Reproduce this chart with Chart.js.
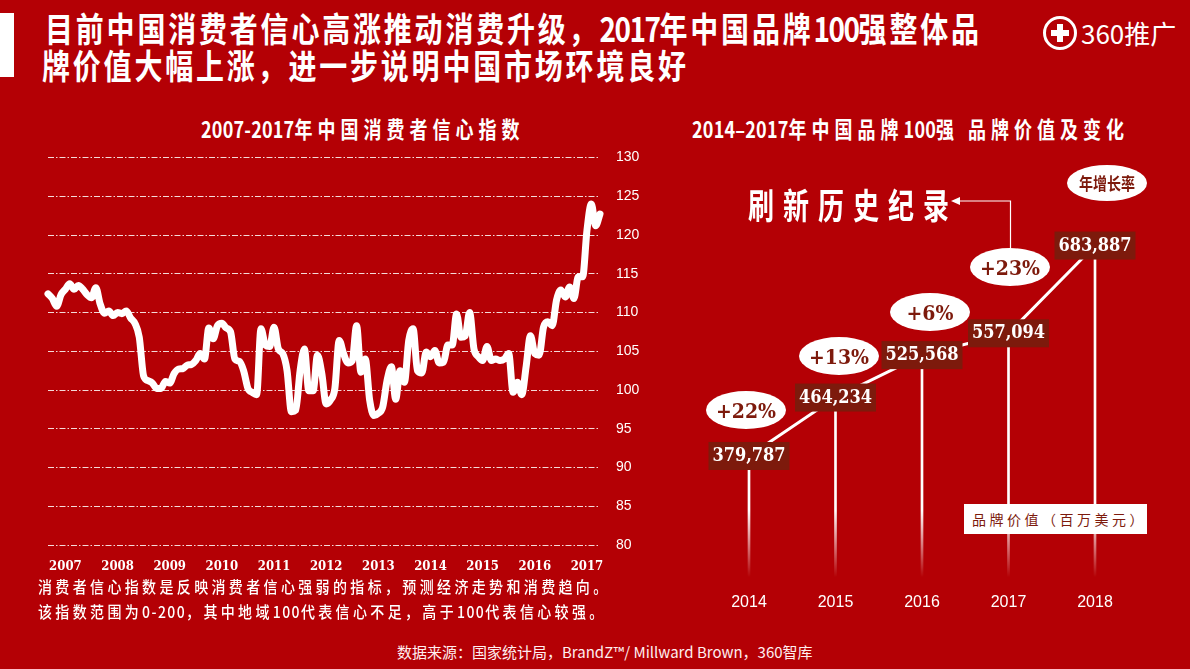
<!DOCTYPE html>
<html lang="zh"><head><meta charset="utf-8">
<script src="https://cdn.jsdelivr.net/npm/chart.js@4"></script>
<style>
html,body{margin:0;padding:0;background:#b40005;}
#page{position:relative;width:1190px;height:669px;overflow:hidden;background:#b40005;color:#fff;font-family:"Noto Sans CJK SC",sans-serif;}
canvas{position:absolute;top:0;}
.t{position:absolute;white-space:nowrap;transform-origin:0 0;line-height:1;}
.h{font-size:28px;font-weight:700;letter-spacing:2.8px;transform:scaleY(1.22);}
.h span{letter-spacing:-1.5px;}
.s{font-size:18px;font-weight:700;letter-spacing:5px;transform:scaleY(1.25);}
.s span{letter-spacing:.2px;}
.n{font-size:14px;font-weight:500;letter-spacing:3.35px;transform:scaleY(1.15);}
.n span{letter-spacing:1.4px;}
.e{position:absolute;background:#fff;border-radius:50%;color:#7d1a0c;display:flex;align-items:center;justify-content:center;font:bold 21px "DejaVu Serif Condensed","DejaVu Serif",serif;width:80px;height:38px;}
</style></head><body><div id="page">
<div style="position:absolute;left:0;top:13px;width:14px;height:64px;background:#fff"></div>
<div class="t h" style="left:45px;top:10px">目前中国消费者信心高涨推动消费升级，<span>2017</span>年中国品牌<span>100</span>强整体品</div>
<div class="t h" style="left:42px;top:47px">牌价值大幅上涨，进一步说明中国市场环境良好</div>
<div style="position:absolute;left:1043px;top:16px;width:28px;height:28px;border:3px solid #fff;border-radius:50%"></div>
<div style="position:absolute;left:1051px;top:30px;width:18px;height:6px;background:#fff"></div>
<div style="position:absolute;left:1057px;top:24px;width:6px;height:18px;background:#fff"></div>
<div class="t" style="left:1081px;top:20px;font-size:26px;font-weight:400">360推广</div>
<div class="t s" style="left:201px;top:117px"><span>2007-2017</span>年中国消费者信心指数</div>
<div class="t s" style="left:692px;top:117px"><span>2014–2017</span>年中国品牌<span>100</span>强 品牌价值及变化</div>
<canvas id="left"></canvas><canvas id="right" style="left:660px"></canvas>
<div class="t n" style="left:38px;top:578px">消费者信心指数是反映消费者信心强弱的指标，预测经济走势和消费趋向。</div>
<div class="t n" style="left:38px;top:603px">该指数范围为<span>0-200</span>，其中地域<span>100</span>代表信心不足，高于<span>100</span>代表信心较强。</div>
<div class="t" style="left:397px;top:644px;font-size:15px;color:#ffeef0">数据来源：国家统计局，BrandZ™/ Millward Brown，360智库</div>
<div class="t" style="left:748px;top:187px;font-size:26px;font-weight:700;letter-spacing:9px;transform:scaleY(1.35)">刷新历史纪录</div>
<svg style="position:absolute;left:0;top:0" width="1190" height="669"><path d="M1010.5 248V201H958" fill="none" stroke="#fff" stroke-width="1.2"/><path d="M951 201l9-4v8z" fill="#fff"/></svg>
<div class="e" style="left:706px;top:391px" data-g="0"></div>
<div class="e" style="left:799px;top:337px" data-g="1"></div>
<div class="e" style="left:890px;top:293px" data-g="2"></div>
<div class="e" style="left:970px;top:248px" data-g="3"></div>
<div class="e" style="left:1067px;top:165px;height:36px;font:bold 14px 'Noto Sans CJK SC',sans-serif"><span style="display:inline-block;transform:scaleY(1.2)">年增长率</span></div>
<div class="t" style="left:964px;top:504px;width:175px;padding-left:8px;height:30px;background:#fff;color:#7d1a0c;font-size:14px;line-height:30px;text-align:center;letter-spacing:3.5px">品牌价值（百万美元）</div>
</div>
<script>
const yearLabels=["2007","2008","2009","2010","2011","2012","2013","2014","2015","2016","2017"];
const confidenceIndex=[112.4,111.8,110.8,112.3,113,113.7,113,113.5,113,112.3,111.9,113.2,111.1,109.9,110.2,109.6,110,109.85,110.2,109.3,108.6,106.8,101.8,101.2,100.9,100.2,100.2,101.1,100.9,102.1,102.7,102.75,103.2,103.3,103.8,104.7,104,108,106.6,108.3,108.6,108,107.5,104,103.7,102.5,100.2,99.7,99.4,107.9,105.8,105.6,108.1,105.3,104.7,102.5,97.2,97.4,102.5,105.3,99.9,99.9,104.5,102.1,98.2,98.7,100.2,106.4,104.7,103.5,103.8,108.3,102.3,104,98.7,96.7,97,97.8,101.2,103,98.8,102.5,101,106.4,107.9,102.5,102.2,104.9,104.3,105.1,103.5,103.6,105.8,105.8,109.8,106.8,107,110,105.3,104.3,103.8,105.6,103.8,104,103.8,104,104.7,99.7,101,99.4,103,107,104.7,104.5,108.1,108.8,108.3,111.6,112.9,112,113.3,111.8,114.6,114.6,120.6,124,121.2,122.7];
const monthIndexLabels=confidenceIndex.map((_,i)=>yearLabels[Math.floor(i/12)]+"-"+String(i%12+1).padStart(2,"0"));
const brandYears=["2014","2015","2016","2017","2018"];
const brandValues=[379787,464234,525568,557094,683887];
const growthRates=["+22%","+13%","+6%","+23%"];
document.querySelectorAll('[data-g]').forEach(el=>{el.textContent=growthRates[+el.dataset.g];});
Chart.defaults.animation=false;
Chart.defaults.responsive=false;
Chart.defaults.devicePixelRatio=1;
const L=document.getElementById('left');L.width=660;L.height=585;L.style.width='660px';L.style.height='585px';
new Chart(L,{type:'line',data:{labels:monthIndexLabels,datasets:[{data:confidenceIndex,borderColor:'#fff',borderWidth:7,pointRadius:0,cubicInterpolationMode:'monotone',clip:false,borderCapStyle:'round',borderJoinStyle:'round'}]},
options:{layout:{padding:{left:48,top:157.5,right:0,bottom:0}},plugins:{legend:{display:false},tooltip:{enabled:false}},
scales:{
 x:{offset:false,afterFit:s=>{s.height=40;},grid:{display:false},border:{display:false},ticks:{autoSkip:false,maxRotation:0,padding:6,color:'#fff',font:{family:'"DejaVu Serif Condensed","DejaVu Serif",serif',weight:'bold',size:13},callback:function(v,i){return i%12===4?yearLabels[Math.floor(i/12)]:null;}}},
 y:{position:'right',min:80,max:130,afterFit:s=>{s.width=60;},border:{display:false,dash:[6,2,1.5,2]},grid:{color:'rgba(255,255,255,.85)',lineWidth:1,drawTicks:false},ticks:{stepSize:5,padding:16,color:'#fff',font:{family:'"Liberation Sans",sans-serif',size:14}}}
}}});
const R=document.getElementById('right');R.width=530;R.height=625;R.style.width='530px';R.style.height='625px';
const boxes={id:'boxes',afterDatasetsDraw(c){const m=c.getDatasetMeta(1),ctx=c.ctx;ctx.save();ctx.textAlign='center';ctx.textBaseline='middle';
 m.data.forEach((p,i)=>{ctx.fillStyle='#7d1a0c';ctx.fillRect(p.x-40.5,p.y-14,81,28);ctx.fillStyle='#fff';ctx.font='bold 18px "DejaVu Serif Condensed","DejaVu Serif",serif';ctx.fillText(brandValues[i].toLocaleString('en-US'),p.x,p.y+.5);});ctx.restore();}};
new Chart(R,{data:{labels:brandYears,datasets:[
 {type:'bar',data:brandValues,barThickness:2,order:2,backgroundColor:c=>{const a=c.chart.chartArea;if(!a)return '#fff';const g=c.chart.ctx.createLinearGradient(0,a.bottom-70,0,a.bottom-3);g.addColorStop(0,'rgba(255,255,255,1)');g.addColorStop(1,'rgba(255,255,255,0)');return g;}},
 {type:'line',data:brandValues,borderColor:'#fff',borderWidth:3,pointRadius:0,tension:0,order:1}
]},plugins:[boxes],
options:{layout:{padding:{left:45.75,right:51.75,top:234.4,bottom:0}},plugins:{legend:{display:false},tooltip:{enabled:false}},
scales:{
 x:{offset:true,afterFit:s=>{s.height=44.6;},grid:{display:false},border:{display:false},ticks:{padding:5,color:'#fff',font:{family:'"Liberation Sans",sans-serif',size:16}}},
 y:{display:false,min:200000,max:700000}
}}});
</script></body></html>
